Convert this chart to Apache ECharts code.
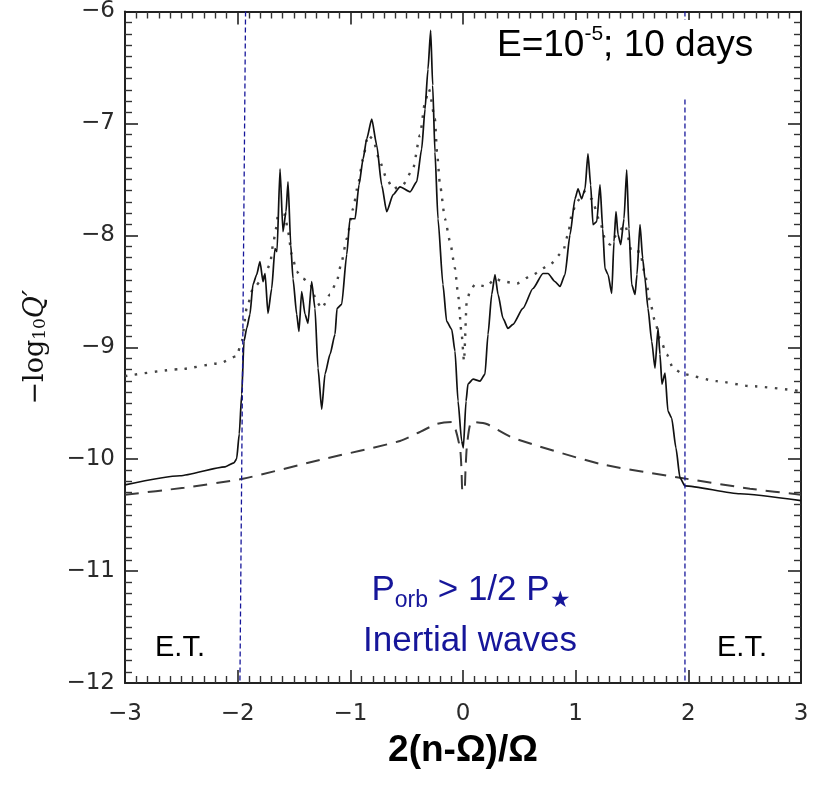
<!DOCTYPE html>
<html>
<head>
<meta charset="utf-8">
<script src="https://cdn.jsdelivr.net/npm/echarts@6/dist/echarts.min.js"></script>
<style>
  html, body { margin: 0; padding: 0; background: #fff; }
  #chart { width: 821px; height: 786px; }
</style>
</head>
<body>
<div id="chart"></div>
<script>
// -log10 Q' vs 2(n-Ω)/Ω, E=1e-5, 10 days
// full response (solid), dotted envelope, dashed equilibrium-tide curve

const SOLID_X = [-3, -2.512, -2.112, -2.033, -2.009, -1.986, -1.964, -1.944, -1.92, -1.891, -1.864, -1.831, -1.802, -1.775, -1.757, -1.731, -1.698, -1.669, -1.651, -1.624, -1.598, -1.571, -1.553, -1.529, -1.509, -1.476, -1.456, -1.432, -1.402, -1.376, -1.343, -1.314, -1.287, -1.254, -1.225, -1.18, -1.136, -1.118, -1.077, -1.032, -1.003, -0.958, -0.923, -0.887, -0.855, -0.81, -0.766, -0.722, -0.677, -0.621, -0.559, -0.47, -0.411, -0.367, -0.337, -0.311, -0.287, -0.269, -0.249, -0.222, -0.178, -0.145, -0.1, -0.071, -0.044, -0.012, 0.003, 0.027, 0.044, 0.089, 0.151, 0.195, 0.222, 0.255, 0.284, 0.311, 0.355, 0.399, 0.444, 0.532, 0.621, 0.71, 0.754, 0.816, 0.861, 0.905, 0.95, 0.994, 1.021, 1.053, 1.083, 1.109, 1.133, 1.154, 1.187, 1.216, 1.24, 1.26, 1.287, 1.32, 1.34, 1.358, 1.376, 1.4, 1.429, 1.453, 1.473, 1.497, 1.527, 1.544, 1.571, 1.595, 1.615, 1.642, 1.675, 1.704, 1.731, 1.748, 1.766, 1.793, 1.819, 1.852, 1.89, 1.926, 1.97, 2.458, 3];
const SOLID_Y = [-10.229, -10.148, -10.068, -10.033, -9.997, -9.775, -9.419, -8.947, -8.831, -8.706, -8.439, -8.35, -8.234, -8.413, -8.341, -8.697, -8.475, -8.119, -8.145, -7.407, -7.967, -7.789, -7.522, -8.083, -8.386, -8.706, -8.858, -8.502, -8.706, -8.786, -8.413, -8.653, -9.187, -9.552, -9.24, -9.062, -8.884, -8.653, -8.617, -8.172, -7.852, -7.852, -7.549, -7.318, -7.14, -6.961, -7.193, -7.549, -7.789, -7.638, -7.567, -7.611, -7.522, -7.229, -6.872, -6.516, -6.169, -6.659, -7.255, -7.852, -8.439, -8.769, -8.84, -9.036, -9.481, -9.837, -9.899, -9.481, -9.329, -9.285, -9.303, -9.24, -8.884, -8.528, -8.35, -8.528, -8.742, -8.831, -8.795, -8.653, -8.475, -8.341, -8.341, -8.413, -8.457, -8.35, -7.994, -7.674, -7.585, -7.674, -7.585, -7.273, -7.549, -7.905, -7.878, -7.549, -7.941, -8.297, -8.35, -8.519, -8.056, -7.789, -7.994, -8.083, -7.852, -7.415, -7.941, -8.439, -8.528, -8.35, -7.905, -8.208, -8.386, -8.653, -8.947, -9.187, -8.831, -9.062, -9.329, -9.232, -9.57, -9.632, -9.899, -10.166, -10.238, -10.309, -10.371];

const DOTTED_X = [-3, -2.512, -2.157, -2.009, -1.964, -1.92, -1.864, -1.775, -1.713, -1.686, -1.66, -1.642, -1.58, -1.553, -1.52, -1.476, -1.42, -1.358, -1.299, -1.254, -1.18, -1.121, -1.077, -1.032, -0.976, -0.932, -0.888, -0.843, -0.799, -0.737, -0.677, -0.621, -0.533, -0.444, -0.382, -0.337, -0.302, -0.249, -0.231, -0.204, -0.16, -0.115, -0.071, -0.044, -0.012, 0.009, 0.033, 0.062, 0.106, 0.21, 0.284, 0.355, 0.479, 0.621, 0.772, 0.887, 0.932, 0.965, 1.009, 1.083, 1.142, 1.216, 1.26, 1.305, 1.364, 1.438, 1.497, 1.571, 1.615, 1.66, 1.704, 1.748, 1.808, 1.864, 1.953, 2.252, 2.547, 3];
const DOTTED_Y = [-9.258, -9.196, -9.143, -9.08, -8.947, -8.653, -8.475, -8.386, -8.261, -8.083, -7.941, -7.816, -7.816, -7.967, -8.172, -8.324, -8.386, -8.43, -8.591, -8.653, -8.528, -8.413, -8.234, -8.03, -7.763, -7.549, -7.318, -7.104, -7.14, -7.344, -7.496, -7.585, -7.549, -7.407, -7.104, -6.81, -6.694, -6.961, -7.255, -7.549, -7.852, -8.056, -8.297, -8.528, -8.884, -9.125, -8.591, -8.502, -8.439, -8.457, -8.386, -8.413, -8.43, -8.35, -8.261, -8.145, -7.994, -7.816, -7.7, -7.611, -7.674, -7.878, -8.03, -8.083, -7.994, -7.905, -8.145, -8.145, -8.35, -8.591, -8.769, -8.92, -9.062, -9.187, -9.24, -9.303, -9.347, -9.392];

const DASHED_X = [-3, -2.476, -1.953, -1.269, -0.559, -0.233, -0.1, -0.027, -0.013, -0.005, 0.013, 0.022, 0.035, 0.077, 0.21, 0.444, 1.216, 1.926, 2.547, 3];
const DASHED_Y = [-10.318, -10.255, -10.175, -10.006, -9.837, -9.686, -9.668, -9.899, -10.104, -10.282, -10.282, -10.104, -9.881, -9.668, -9.686, -9.81, -10.042, -10.166, -10.264, -10.318];

// blue boundaries at |2(n-Ω)/Ω| ≈ 2
const BOUND_LEFT_X = [-1.93, -1.98];
const BOUND_RIGHT_X = [1.97, 1.97];
const BOUND_Y = [-6, -12];

const X_MIN = -3, X_MAX = 3, Y_MIN = -12, Y_MAX = -6;

const zip = (xs, ys) => xs.map((x, i) => [x, ys[i]]);
const fmt = v => (v < 0 ? '\u2212' : '') + Math.abs(v);

const INK = '#222';
const BLUE = '#16169a';
const tickFont = { fontFamily: 'DejaVu Sans', fontSize: 23, color: '#2a2a2a' };

const baseAxis = {
  type: 'value',
  interval: 1,
  axisLine: { show: true, onZero: false, lineStyle: { color: INK, width: 2 } },
  axisTick: { show: true, inside: true, length: 13, lineStyle: { color: INK, width: 1.6 } },
  minorTick: { show: true, splitNumber: 10, length: 7, lineStyle: { color: '#333', width: 1.4 } },
  splitLine: { show: false },
  minorSplitLine: { show: false }
};

const chart = echarts.init(document.getElementById('chart'), null, { renderer: 'canvas' });

chart.setOption({
  animation: false,
  backgroundColor: '#fff',
  grid: { left: 125, right: 20, top: 9, bottom: 103 },
  xAxis: [
    Object.assign({}, baseAxis, {
      min: X_MIN, max: X_MAX, position: 'bottom',
      axisLabel: Object.assign({ margin: 20, formatter: fmt }, tickFont),
      name: '2(n-\u03A9)/\u03A9',
      nameLocation: 'middle',
      nameGap: 49,
      nameTextStyle: { fontFamily: 'Liberation Sans', fontWeight: 'bold', fontSize: 37, color: '#000' }
    }),
    Object.assign({}, baseAxis, {
      min: X_MIN, max: X_MAX, position: 'top',
      axisLabel: { show: false }
    })
  ],
  yAxis: [
    Object.assign({}, baseAxis, {
      min: Y_MIN, max: Y_MAX, position: 'left',
      axisLabel: Object.assign({ margin: 10, formatter: fmt }, tickFont),
      name: '\u2212log{sub|10}{it|Q\u2032}',
      nameLocation: 'middle',
      nameGap: 76,
      nameTextStyle: {
        fontFamily: 'DejaVu Serif', fontSize: 27, color: '#111',
        rich: {
          sub: { fontFamily: 'DejaVu Serif', fontSize: 17, verticalAlign: 'bottom', lineHeight: 16, color: '#111' },
          it: { fontFamily: 'DejaVu Serif', fontStyle: 'italic', fontSize: 27, color: '#111' }
        }
      }
    }),
    Object.assign({}, baseAxis, {
      min: Y_MIN, max: Y_MAX, position: 'right',
      axisLabel: { show: false }
    })
  ],
  series: [
    {
      name: 'dashed', type: 'line', data: zip(DASHED_X, DASHED_Y),
      showSymbol: false, silent: true, smooth: 0.2,
      lineStyle: { color: '#3a3a3a', width: 2, type: [14, 9] }
    },
    {
      name: 'dotted', type: 'line', data: zip(DOTTED_X, DOTTED_Y),
      showSymbol: false, silent: true, smooth: 0.2, smoothMonotone: 'x',
      lineStyle: { color: '#444', width: 2.4, type: [2.5, 7.5] }
    },
    {
      name: 'solid', type: 'line', data: zip(SOLID_X, SOLID_Y),
      showSymbol: false, silent: true, smooth: 0.2, smoothMonotone: 'x',
      lineStyle: { color: '#111', width: 1.7 }
    },
    {
      name: 'boundL', type: 'line', data: zip(BOUND_LEFT_X, BOUND_Y),
      showSymbol: false, silent: true,
      lineStyle: { color: BLUE, width: 1.3, type: [5, 3] }
    },
    {
      name: 'boundR', type: 'line', data: zip(BOUND_RIGHT_X, BOUND_Y),
      showSymbol: false, silent: true,
      lineStyle: { color: BLUE, width: 1.3, type: [5, 3] }
    }
  ],
  graphic: [
    {
      type: 'text', left: 497, top: 20, z: 100,
      style: {
        text: 'E=10{sup|-5}; 10 days',
        fontFamily: 'Liberation Sans', fontSize: 37, fill: '#000',
        backgroundColor: '#fff', padding: [4, 2, 30, 0], lineHeight: 44,
        rich: {
          sup: { fontFamily: 'Liberation Sans', fontSize: 21, verticalAlign: 'top', lineHeight: 24, fill: '#000' }
        }
      }
    },
    {
      type: 'text', z: 100, x: 471, y: 590,
      style: {
        text: 'P{sub|orb} > 1/2 P{sub|\u2605}',
        fontFamily: 'Liberation Sans', fontSize: 35, fill: BLUE,
        align: 'center', verticalAlign: 'middle', lineHeight: 44,
        rich: {
          sub: { fontFamily: 'Liberation Sans', fontSize: 23, verticalAlign: 'bottom', lineHeight: 23, fill: BLUE }
        }
      }
    },
    {
      type: 'text', z: 100, x: 470, y: 641,
      style: {
        text: 'Inertial waves',
        fontFamily: 'Liberation Sans', fontSize: 35, fill: BLUE,
        align: 'center', verticalAlign: 'middle'
      }
    },
    {
      type: 'text', z: 100, x: 180, y: 648,
      style: {
        text: 'E.T.', fontFamily: 'Liberation Sans', fontSize: 29, fill: '#000',
        align: 'center', verticalAlign: 'middle'
      }
    },
    {
      type: 'text', z: 100, x: 742, y: 648,
      style: {
        text: 'E.T.', fontFamily: 'Liberation Sans', fontSize: 29, fill: '#000',
        align: 'center', verticalAlign: 'middle'
      }
    }
  ]
});
</script>
</body>
</html>
